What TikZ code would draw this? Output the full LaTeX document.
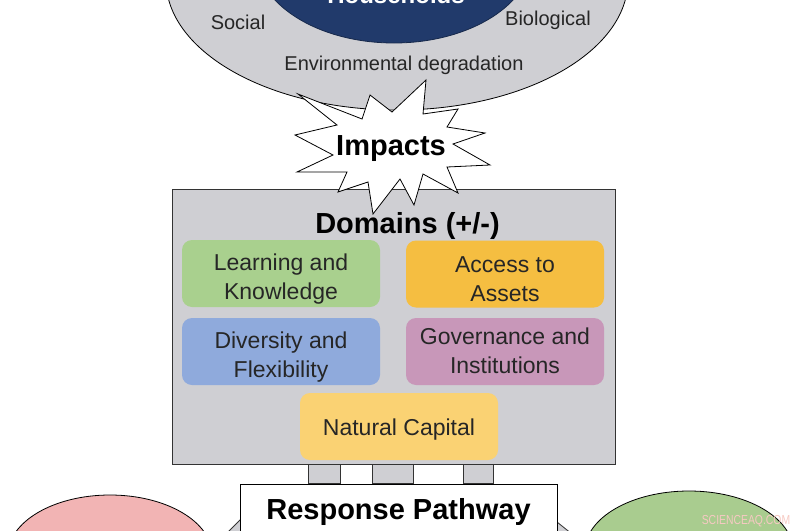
\documentclass[tikz,border=0pt]{standalone}
\usepackage{fontspec}
\setmainfont{Liberation Sans}
\usetikzlibrary{shapes.geometric}
\definecolor{hazgray}{HTML}{CFCFD3}
\definecolor{navy}{HTML}{213A6B}
\definecolor{learngreen}{HTML}{A9D08E}
\definecolor{assetorange}{HTML}{F5BE41}
\definecolor{divblue}{HTML}{8FAADC}
\definecolor{govmauve}{HTML}{C897B9}
\definecolor{natyellow}{HTML}{FAD273}
\definecolor{outpink}{HTML}{F2B4B4}
\definecolor{outgreen}{HTML}{A9CC8F}
\definecolor{markpink}{HTML}{F6C9C2}
\tikzstyle{blob}=[ellipse,draw=black,line width=0.8pt,inner sep=0pt]
\tikzstyle{dombox}=[rectangle,rounded corners=10pt,minimum width=198pt,minimum height=67pt]
\tikzstyle{domtext}=[align=center,font=\fontsize{23}{29}\selectfont,text=black!85]
\tikzstyle{barbox}=[draw=black!80,fill=hazgray,line width=0.8pt]
\tikzstyle{lbl}=[font=\fontsize{20}{24}\selectfont,text=black!85]
\tikzstyle{headtext}=[anchor=base,font=\bfseries\fontsize{29}{32}\selectfont]

\begin{document}
\begin{tikzpicture}[x=1pt,y=-1pt]
        \useasboundingbox (0,0) rectangle (800,530);
        \clip (0,0) rectangle (800,530);
        % stressors round the households
        \node[blob,fill=hazgray,minimum width=462pt,minimum height=260pt] (hazards) at (397,-20) {};
        \node[blob,draw=navy!70!black,fill=navy,minimum width=277pt,minimum height=176pt] (households) at (394,-45) {};
        \node[anchor=base,text=white,font=\bfseries\fontsize{24}{28}\selectfont] (hhtitle) at (396,3) {Households};
        \node[lbl] (social) at (238,22) {Social};
        \node[lbl] (bio) at (548,20) {Biological};
        \node[lbl] (envdeg) at (404,65) {Environmental degradation};
        % outcomes
        \node[blob,fill=outpink,minimum width=204pt,minimum height=120pt] (leftout) at (110,555) {};
        \node[blob,fill=outgreen,minimum width=208pt,minimum height=120pt] (rightout) at (689,551) {};
        \draw[barbox] (250,510) -- (190,570) -- (230,610) -- (290,550) -- cycle;
        \draw[barbox] (547,514) -- (617,570) -- (580,610) -- (510,555) -- cycle;
        \node[draw=black,fill=white,line width=0.8pt,minimum width=317pt,minimum height=76pt] (resp) at (398.5,522) {};
        \node[headtext] (resptitle) at (398.5,519) {Response Pathway};
        % domains box
        \node[draw=black!80,fill=hazgray,line width=0.8pt,minimum width=443pt,minimum height=275pt] (domains) at (393.5,326.5) {};
        \draw[barbox] ([xshift=-85.5pt]domains.south) rectangle ([xshift=-58.5pt]resp.north);
        \draw[barbox] ([xshift=-21.5pt]domains.south) rectangle ([xshift=14.5pt]resp.north);
        \draw[barbox] ([xshift=69.5pt]domains.south) rectangle ([xshift=94.5pt]resp.north);
        \node[dombox,fill=learngreen] (learn) at (281,273.5) {};
        \node[dombox,fill=assetorange] (assets) at (505,274) {};
        \node[dombox,fill=divblue] (diverse) at (281,351.5) {};
        \node[dombox,fill=govmauve] (govern) at (505,351.5) {};
        \node[dombox,fill=natyellow] (natcap) at (399,426.5) {};
        \node[domtext] (learntext) at ([yshift=-6pt]learn.center) {Learning and\\Knowledge};
        \node[domtext] (assetstext) at ([yshift=-5pt]assets.center) {Access to\\Assets};
        \node[domtext] (diversetext) at ([yshift=-6pt]diverse.center) {Diversity and\\Flexibility};
        \node[domtext] (governtext) at ([yshift=1pt]govern.center) {Governance and\\Institutions};
        \node[domtext] (natcaptext) at ([yshift=-3pt]natcap.center) {Natural Capital};
        % impacts burst
        \draw[fill=white,line width=0.8pt,line join=miter] (426,80) -- (423,114) -- (458,109) -- (447,127)
          -- (485,133) -- (453,144) -- (490,165) -- (447,167) -- (458,193) -- (423,174)
          -- (414,205) -- (400,179) -- (373,214) -- (368,182) -- (338,192) -- (347,172)
          -- (297,172) -- (333,155) -- (295,135) -- (337,125) -- (298,94) -- (362,119)
          -- (370,95) -- (392,112) -- cycle;
        \node[headtext] (impacts) at (391,155) {Impacts};
        \node[headtext] (domtitle) at (407.5,233) {Domains (+/-)};
        \node[text=markpink,font=\fontsize{13}{15}\selectfont,xscale=0.8] (mark) at (746,521) {SCIENCEAQ.COM};
      \end{tikzpicture}
\end{document}
